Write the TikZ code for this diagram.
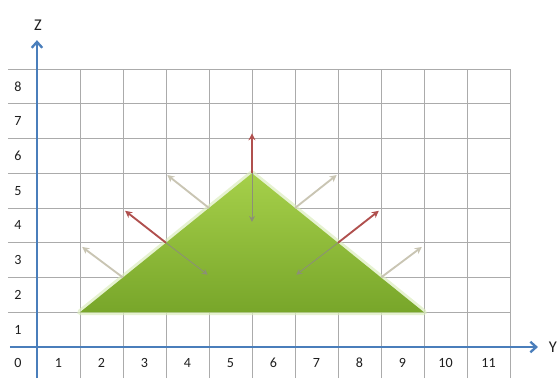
\documentclass[tikz,border=0pt]{standalone}
\usepackage{fontspec}
\setmainfont{Carlito}
\usetikzlibrary{arrows.meta}
\definecolor{nvaxis}{HTML}{4A7EBB}
\definecolor{nvgrid}{HTML}{ABABAB}
\definecolor{nvink}{HTML}{1E1E1E}
\definecolor{nvred}{HTML}{B0504E}
\definecolor{nvpale}{HTML}{C9C5B3}
\definecolor{nvinner}{HTML}{8C8F78}
\definecolor{nvgreentop}{HTML}{A6D04A}
\definecolor{nvgreenbot}{HTML}{78A62A}
\definecolor{nvglow}{HTML}{DCEDBE}
\tikzset{
  nvaxisline/.style={
    draw=nvaxis, line width=2.4pt,
    -{Straight Barb[length=5pt, width=9pt, line width=2pt]}},
  nvgridline/.style={draw=nvgrid, line width=0.6pt},
  nvnum/.style={font=\fontsize{12}{14}\selectfont, text=nvink, inner sep=0pt},
  nvletter/.style={font=\fontsize{14}{16}\selectfont, text=nvink, inner sep=0pt},
  nvout/.style={draw=nvpale, line width=1.6pt, -{Stealth[length=6pt, width=6pt]}},
  nvnormal/.style={draw=nvred, line width=1.6pt, -{Stealth[length=6pt, width=6pt]}},
  nvin/.style={draw=nvinner, line width=0.7pt, -{Stealth[length=5pt, width=5pt]}},
}

\begin{document}
\begin{tikzpicture}[x=1.29cm, y=1.0425cm]
\useasboundingbox (-0.860, -0.892) rectangle (12.093, 9.986);

% Grid.
\foreach \k in {1,...,11}
  \draw[nvgridline] (\k, -0.892) -- (\k, 8);
\foreach \j in {1,...,8}
  \draw[nvgridline] (-0.674, \j) -- (11, \j);

% Scale numbers.
\node[nvnum] (col0) at (-0.44, -0.46) {0};
\foreach \k in {1,...,11}
  \node[nvnum] (col\k) at ({\k - 0.5}, -0.46) {\k};
\foreach \j in {1,...,8}
  \node[nvnum] (row\j) at (-0.44, {\j - 0.5}) {\j};

% Axes.
\coordinate (zbase) at (0, -0.892);
\coordinate (ztip) at (0, 8.83);
\coordinate (ybase) at (-0.63, 0);
\coordinate (ytip) at (11.65, 0);
\draw[nvaxisline] (zbase) -- (ztip);
\draw[nvaxisline] (ybase) -- (ytip);
\node[nvletter] (zlabel) at (0.02, 9.27) {Z};
\node[nvletter, anchor=west] (ylabel) at (11.9, 0) {Y};

% Triangle.
\coordinate (left) at (1, 1);
\coordinate (apex) at (5, 5);
\coordinate (right) at (9, 1);
\draw[nvglow, line width=5pt, line join=round, opacity=0.7]
  (left) -- (apex) -- (right) -- cycle;
\shade[top color=nvgreentop, bottom color=nvgreenbot]
  (left) -- (apex) -- (right) -- cycle;

% Points on the sides and arrow ends.
\coordinate (l2) at (2, 2);
\coordinate (l3) at (3, 3);
\coordinate (l4) at (4, 4);
\coordinate (r2) at (8, 2);
\coordinate (r3) at (7, 3);
\coordinate (r4) at (6, 4);
\coordinate (l2out) at (1.05, 2.88);
\coordinate (l3out) at (2.05, 3.92);
\coordinate (l3in) at (3.97, 2.08);
\coordinate (l4out) at (3.03, 4.95);
\coordinate (r2out) at (8.95, 2.88);
\coordinate (r3out) at (7.95, 3.92);
\coordinate (r3in) at (6.03, 2.08);
\coordinate (r4out) at (6.97, 4.95);
\coordinate (apexout) at (5, 6.15);
\coordinate (apexin) at (5, 3.6);

% Outward and inward arrows.
\draw[nvout] (l2) -- (l2out);
\draw[nvout] (l4) -- (l4out);
\draw[nvout] (r2) -- (r2out);
\draw[nvout] (r4) -- (r4out);
\draw[nvnormal] (l3) -- (l3out);
\draw[nvnormal] (r3) -- (r3out);
\draw[nvnormal] (apex) -- (apexout);
\draw[nvin] (l3) -- (l3in);
\draw[nvin] (r3) -- (r3in);
\draw[nvin] (apex) -- (apexin);

\end{tikzpicture}
\end{document}
